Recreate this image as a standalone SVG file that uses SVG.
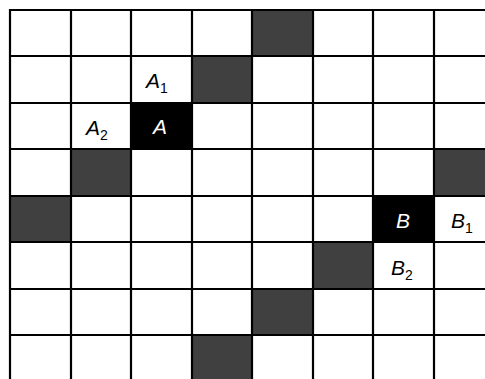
<svg xmlns="http://www.w3.org/2000/svg" width="485" height="379" viewBox="0 0 485 379">
<style>
.g{fill:#404040}
.k{fill:#000}
.ln{stroke:#000;stroke-width:2.2;fill:none}
.t{font-family:"Liberation Sans",Arial,sans-serif;font-size:21px;font-style:italic;fill:#000}
.w{fill:#fff}
.s{font-size:14px;font-style:normal}
</style>
<rect x="0" y="0" width="485" height="379" fill="#fff"/>
<g id="cells">
<rect class="g" x="252" y="10" width="61" height="46"/>
<rect class="g" x="192" y="56" width="60" height="47"/>
<rect class="k" x="131" y="103" width="61" height="46"/>
<rect class="g" x="71" y="149" width="60" height="47"/>
<rect class="g" x="434" y="149" width="60" height="47"/>
<rect class="g" x="10" y="196" width="61" height="46"/>
<rect class="k" x="373" y="196" width="61" height="46"/>
<rect class="g" x="313" y="242" width="60" height="47"/>
<rect class="g" x="252" y="289" width="61" height="46"/>
<rect class="g" x="192" y="335" width="60" height="47"/>
</g>
<g id="grid" class="ln">
<path d="M10 9V379M71 10V379M131 10V379M192 10V379M252 10V379M313 10V379M373 10V379M434 10V379"/>
<path d="M9 10H485M9 56H485M9 103H485M9 149H485M9 196H485M9 242H485M9 289H485M9 335H485"/>
</g>
<g id="labels">
<text class="t" x="146" y="88">A<tspan class="s" dy="5">1</tspan></text>
<text class="t" x="86" y="135">A<tspan class="s" dy="5">2</tspan></text>
<text class="t w" x="160" y="134" text-anchor="middle">A</text>
<text class="t w" x="403" y="228" text-anchor="middle">B</text>
<text class="t" x="451" y="228">B<tspan class="s" dy="5">1</tspan></text>
<text class="t" x="391" y="275">B<tspan class="s" dy="5">2</tspan></text>
</g>
</svg>
